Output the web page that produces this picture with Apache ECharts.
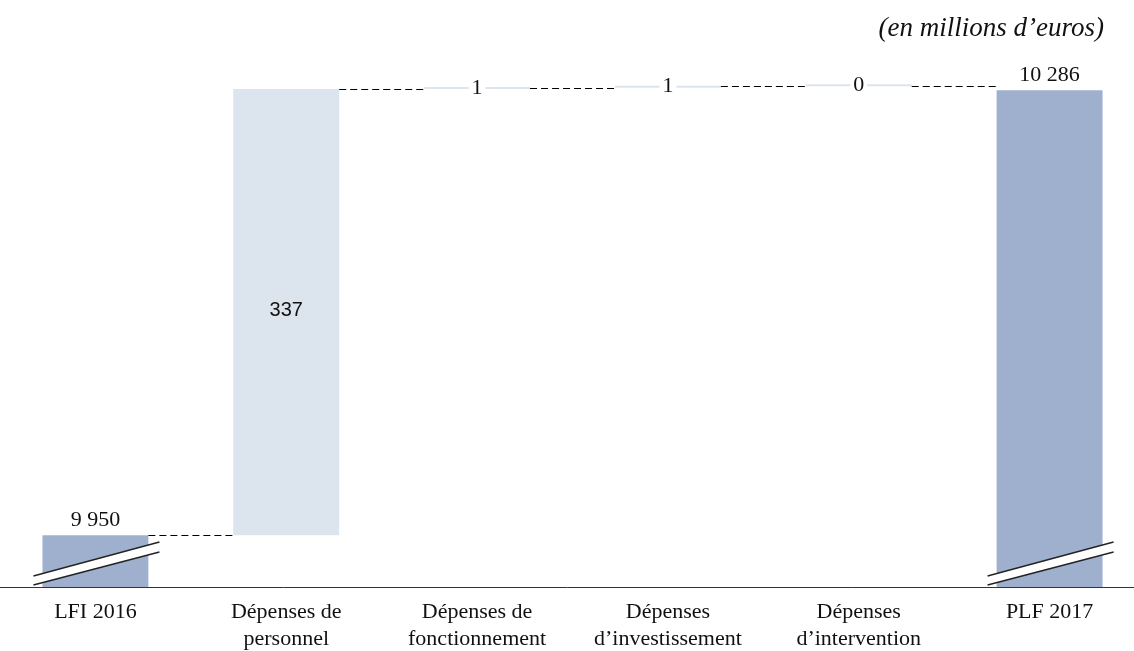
<!DOCTYPE html>
<html>
<head>
<meta charset="utf-8">
<script src="https://cdn.jsdelivr.net/npm/echarts@6/dist/echarts.min.js"></script>
<style>
html,body{margin:0;padding:0;background:#fff;}
#chart{width:1134px;height:651px;}
</style>
</head>
<body>
<div id="chart"></div>
<script>
// ---- data ----
const categories = ['LFI 2016', 'Dépenses de\npersonnel', 'Dépenses de\nfonctionnement', 'Dépenses\nd’investissement', 'Dépenses\nd’intervention', 'PLF 2017'];
const barValues = [9950, 337, 1, 1, 0, 10286];
const barKinds = ['total', 'delta', 'delta', 'delta', 'delta', 'total'];
const breakCategories = ['LFI 2016', 'PLF 2017'];
const unitText = '(en millions d’euros)';
const Y_MIN = 9911, Y_MAX = 10324;

// ---- derived ----
const baseData = [], ends = [];
let running = 0;
barValues.forEach((v, i) => {
  if (barKinds[i] === 'total') { baseData.push(0); running = v; }
  else { baseData.push(running); running += v; }
  ends.push(running);
});
const fmt = v => String(v).replace(/\B(?=(\d{3})+(?!\d))/g, ' ');
const SERIF = '"Liberation Serif", "DejaVu Serif", serif';
const DARK = '#9eb0cd', LIGHT = '#dce4ee';
const BAR_FRAC = 0.555;

const visData = barValues.map((v, i) => {
  const total = barKinds[i] === 'total';
  const item = { value: v, itemStyle: { color: total ? DARK : LIGHT } };
  if (total) {
    item.label = { show: true, position: 'top', distance: 4, fontFamily: SERIF, fontSize: 22, color: '#111' };
  } else if (v >= 50) {
    item.label = { show: true, position: 'inside', offset: [0, -2], fontFamily: '"Liberation Sans", Arial, sans-serif', fontSize: 20, color: '#111' };
  } else {
    item.label = { show: true, position: 'inside', fontFamily: SERIF, fontSize: 22, color: '#111', backgroundColor: '#fff', padding: [0, 3] };
  }
  return item;
});

const connectorData = [];
for (let i = 0; i < categories.length - 1; i++) connectorData.push([i, ends[i]]);
const breakData = breakCategories.map(c => [categories.indexOf(c)]);

const chart = echarts.init(document.getElementById('chart'));
chart.setOption({
  animation: false,
  title: {
    text: unitText, right: 30, top: 15, padding: 0,
    textStyle: { fontFamily: SERIF, fontStyle: 'italic', fontWeight: 'normal', fontSize: 27, color: '#111' }
  },
  grid: { left: 0, width: 1145, top: 40, bottom: 64, containLabel: false, outerBoundsMode: 'none' },
  xAxis: {
    type: 'category', data: categories,
    axisTick: { show: false },
    axisLine: { lineStyle: { color: '#333', width: 1 } },
    axisLabel: { interval: 0, fontFamily: SERIF, fontSize: 22, color: '#111', lineHeight: 27, margin: 12 }
  },
  yAxis: { type: 'value', min: Y_MIN, max: Y_MAX, show: false, splitLine: { show: false } },
  series: [
    { type: 'bar', stack: 'w', data: baseData, itemStyle: { color: 'transparent' }, barWidth: (BAR_FRAC * 100) + '%', silent: true },
    { type: 'bar', stack: 'w', data: visData, barWidth: (BAR_FRAC * 100) + '%', barMinHeight: 2,
      label: { formatter: p => fmt(p.value) } },
    { type: 'custom', data: connectorData, z: 5,
      renderItem: (params, api) => {
        const i = api.value(0), lvl = api.value(1);
        const p1 = api.coord([i, lvl]), p2 = api.coord([i + 1, lvl]);
        const bw = api.size([1, 0])[0] * BAR_FRAC;
        return { type: 'line', shape: { x1: p1[0] + bw / 2, y1: Math.round(p1[1]) + 0.5, x2: p2[0] - bw / 2, y2: Math.round(p1[1]) + 0.5 },
          style: { stroke: '#000', lineWidth: 1.2, lineDash: [7, 4] } };
      } },
    { type: 'custom', data: breakData, z: 10,
      renderItem: (params, api) => {
        const p = api.coord([api.value(0), Y_MIN]);
        const cx = p[0], ay = p[1];
        const a = [cx - 62, ay - 11], b = [cx + 64, ay - 45], c = [cx + 64, ay - 35], d = [cx - 62, ay - 2];
        return { type: 'group', children: [
          { type: 'polygon', shape: { points: [a, b, c, d] }, style: { fill: '#fff' } },
          { type: 'line', shape: { x1: a[0], y1: a[1], x2: b[0], y2: b[1] }, style: { stroke: '#222', lineWidth: 1.3 } },
          { type: 'line', shape: { x1: d[0], y1: d[1], x2: c[0], y2: c[1] }, style: { stroke: '#222', lineWidth: 1.3 } }
        ] };
      } }
  ]
});
</script>
</body>
</html>
